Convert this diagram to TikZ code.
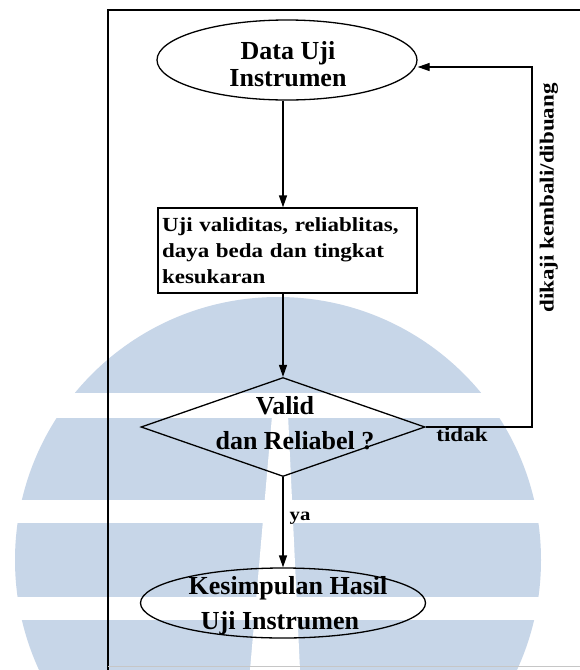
\documentclass[tikz,border=0pt]{standalone}
\usepackage{fontspec}
\setmainfont{Liberation Serif}
\newfontfamily\widefont[FakeStretch=1.15]{Liberation Serif}
\usetikzlibrary{shapes.geometric,arrows.meta}
\definecolor{wm}{RGB}{199,214,232}
\begin{document}
\begin{tikzpicture}[x=1pt,y=-1pt,
  line width=1.3pt,
  arr/.style={-{Triangle[length=12pt,width=8pt]}},
  bigtxt/.style={align=center, inner sep=0pt},
  smalltxt/.style={inner sep=0pt, font=\widefont\bfseries\fontsize{20}{24}\selectfont}]
\useasboundingbox (0,0) rectangle (580,670);
\fill[white] (0,0) rectangle (580,670);
% watermark
\begin{scope}
  \clip (278,560) circle[radius=263];
  \fill[wm] (0,0) rectangle (580,393);
  \fill[wm] (0,418) rectangle (580,500);
  \fill[wm] (0,523) rectangle (580,597);
  \fill[wm] (0,620) rectangle (580,670);
\end{scope}
\fill[white] (274,393) -- (287,393) -- (300,670) -- (250,670) -- cycle;
% frame
\draw[line width=1.5pt] (108,670) -- (108,10) -- (581,10);
\draw[gray!45, line width=0.8pt] (108,666) -- (580,666);
% nodes
\node[ellipse, draw, minimum width=260pt, minimum height=80pt, inner sep=0pt] (topell) at (287,60) {};
\node[bigtxt, font=\bfseries\fontsize{26}{27}\selectfont] (toptxt) at (288,64) {Data Uji\\Instrumen};
\node[draw, rectangle, minimum height=85pt, text width=251pt, inner sep=4pt, align=left,
      font=\widefont\bfseries\fontsize{20}{26}\selectfont] (box) at (287.5,250.5)
      {Uji validitas, reliablitas,\\daya beda dan tingkat\\kesukaran};
\node[diamond, draw, minimum width=284pt, minimum height=99pt, inner sep=0pt] (dec) at (283,427) {};
\node[bigtxt, font=\bfseries\fontsize{26}{35}\selectfont] (dectxt) at (295,423) {Valid\rule{20pt}{0pt}\\dan Reliabel ?};
\node[ellipse, draw, minimum width=285pt, minimum height=70pt, inner sep=0pt] (botell) at (283,603) {};
\node[bigtxt, font=\bfseries\fontsize{26}{35}\selectfont] (bottxt) at (288,606) {Kesimpulan Hasil\\Uji Instrumen\rule{16pt}{0pt}};
\node[smalltxt] (tidak) at (462,435) {tidak};
\node[inner sep=0pt, font=\widefont\bfseries\fontsize{18}{22}\selectfont] (ya) at (300,518) {ya};
\node[smalltxt, rotate=90] (back) at (549,198) {dikaji kembali/dibuang};
% connectors
\coordinate (fb) at (532,67);
\draw[arr] (topell.south -| dec.north) -- (box.north -| dec.north);
\draw[arr] (box.south -| dec.north) -- (dec.north);
\draw[arr] (dec.south) -- (botell.north);
\draw[arr] (dec.east) -| (fb) -- (fb -| topell.east);
\end{tikzpicture}
\end{document}
